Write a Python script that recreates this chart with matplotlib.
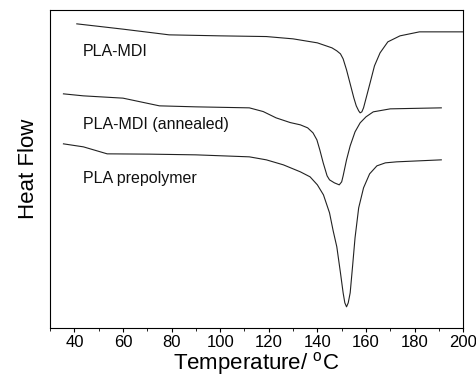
import matplotlib
matplotlib.use("Agg")
import matplotlib.pyplot as plt
from matplotlib.ticker import MultipleLocator

plt.rcParams['font.family'] = ['Liberation Sans', 'DejaVu Sans']
plt.rcParams['mathtext.fontset'] = 'custom'
plt.rcParams['mathtext.rm'] = 'Liberation Sans'
plt.rcParams['mathtext.it'] = 'Liberation Sans'

# DSC traces, heat flow in arbitrary units (endotherm down)
mdi_T = [41, 50, 60, 72.4, 79, 100, 119, 130, 140, 146, 148, 149.5, 150.6, 152, 153.5, 155,
         156, 157, 157.6, 158.3, 159, 160.3, 161.7, 163.5, 165.8, 169, 174, 182, 200]
mdi_hf = [304, 301.5, 298.7, 295, 293, 292, 291.3, 289, 285, 280, 277, 274, 269, 258, 244, 230,
          222, 217, 215, 216, 220, 232, 245, 262, 275, 286, 292, 296, 296]

ann_T = [35.5, 43.7, 60, 75, 90, 112, 117.7, 123, 128.8, 133, 136, 138.2, 139.8, 141, 142.4,
         144, 145, 147, 149, 150, 150.6, 152, 153.5, 155.5, 157.6, 160, 163, 170, 191]
ann_hf = [234, 232, 229.7, 222, 221, 220, 216.3, 210, 205.3, 203, 200, 195, 188, 178, 165,
          152, 148, 145, 143, 146, 152, 168, 182, 196, 205, 211, 216, 219, 220]

pre_T = [35.5, 43.7, 53.5, 71, 90, 112, 119, 126, 133, 137, 140, 142.5, 145, 146.5, 148, 149.5,
         150.6, 151.3, 152, 152.7, 153.5, 154.5, 155.5, 157, 159, 161.5, 164.5, 168, 172.6, 191]
pre_hf = [184, 181, 174, 173.7, 173, 171, 168, 163, 156, 151, 143, 133, 115, 97, 81, 55,
          35, 25, 21, 25, 35, 62, 90, 120, 140, 154, 162, 165, 166, 168]

series = [(mdi_T, mdi_hf), (ann_T, ann_hf), (pre_T, pre_hf)]
labels = ["PLA-MDI", "PLA-MDI (annealed)", "PLA prepolymer"]
label_T = [43.5, 43.5, 43.5]
label_hf = [276, 203, 149]

fig = plt.figure(figsize=(4.77, 3.79), dpi=100)
ax = fig.add_axes([0.105, 0.135, 0.866, 0.839])

for (t, hf) in series:
    ax.plot(t, hf, color='#222222', lw=0.8)

for lab, t, h in zip(labels, label_T, label_hf):
    ax.text(t, h, lab, fontsize=11.5, va='center', ha='left', color='#111111')

ax.set_xlim(30, 200)
ax.set_ylim(0, 318)
ax.xaxis.set_major_locator(MultipleLocator(20))
ax.xaxis.set_minor_locator(MultipleLocator(10))
ax.tick_params(axis='x', which='major', direction='out', length=3, labelsize=12, pad=2)
ax.tick_params(axis='x', which='minor', direction='out', length=2)
ax.set_yticks([])
for s in ax.spines.values():
    s.set_linewidth(0.8)

ax.set_xlabel(r"Temperature/ $^{\mathrm{o}}$C", fontsize=16, labelpad=0)
ax.set_ylabel("Heat Flow", fontsize=16, labelpad=8)

fig.savefig("out.png", dpi=100)
